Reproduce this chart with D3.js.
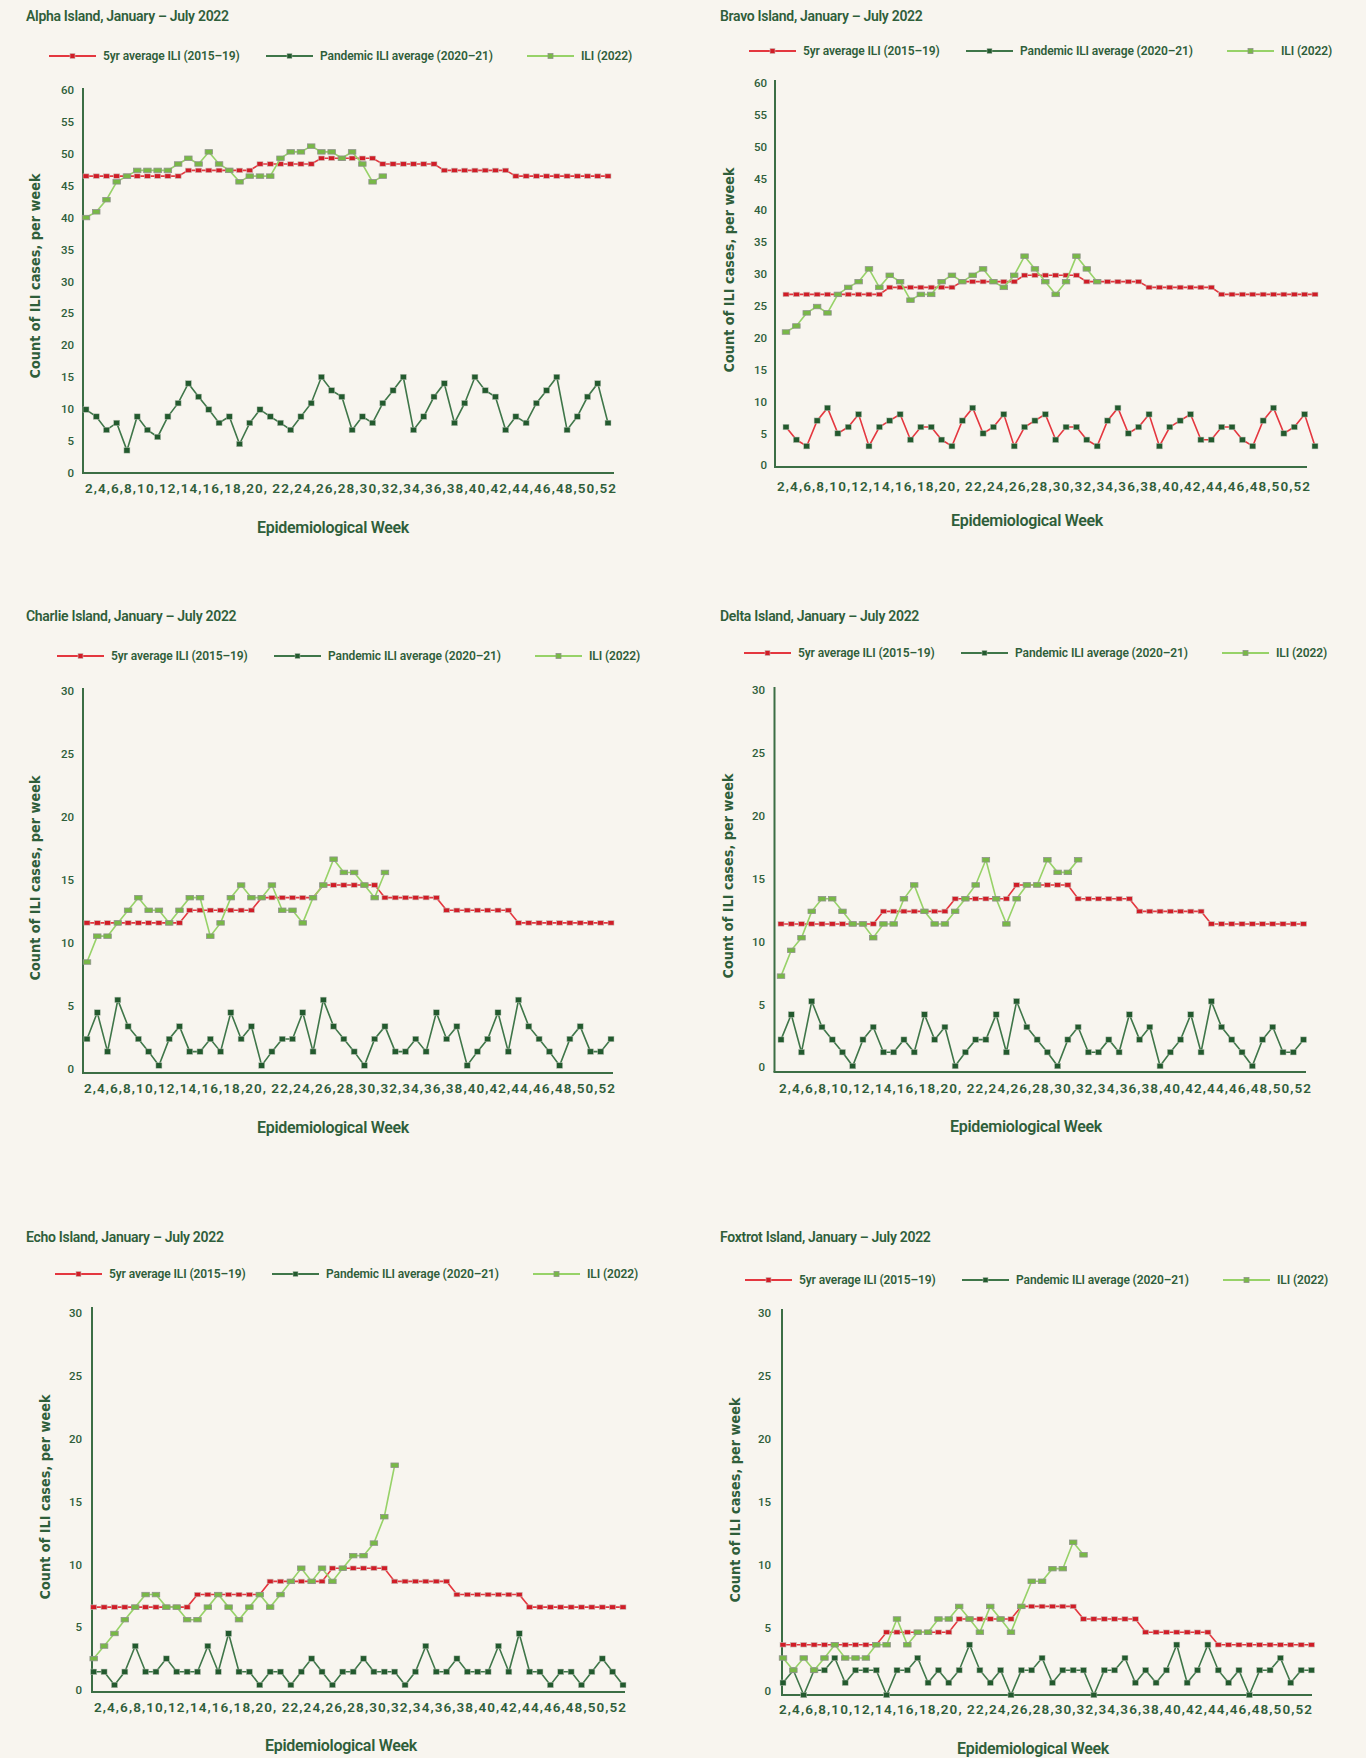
<!DOCTYPE html>
<html>
<head>
<meta charset="utf-8">
<script src="https://cdn.jsdelivr.net/npm/d3@7.9.0/dist/d3.min.js"></script>
<style>
  body { margin: 0; background: #f8f5ef; }
  svg { display: block; }
</style>
</head>
<body>
<svg id="chart" width="1366" height="1758"></svg>
<script>
// ====== DATA ======

const seriesNames = ['5yr average ILI (2015–19)', 'Pandemic ILI average (2020–21)', 'ILI (2022)'];
const xTickLabels = ['2', '4', '6', '8', '10', '12', '14', '16', '18', '20', ' 22', '24', '26',
  '28', '30', '32', '34', '36', '38', '40', '42', '44', '46', '48', '50', '52'];
const yTicksHigh = [0, 5, 10, 15, 20, 25, 30, 35, 40, 45, 50, 55, 60];
const yTicksLow = [0, 5, 10, 15, 20, 25, 30];

// Alpha
const alphaAvg = [46.5, 46.5, 46.5, 46.5, 46.5, 46.5, 46.5, 46.5, 46.5, 46.5, 47.4, 47.4, 47.4, 47.4, 47.4, 47.4, 47.4,
  48.4, 48.4, 48.4, 48.4, 48.4, 48.4, 49.3, 49.3, 49.3, 49.3, 49.3, 49.3, 48.4, 48.4, 48.4, 48.4, 48.4, 48.4,
  47.4, 47.4, 47.4, 47.4, 47.4, 47.4, 47.4, 46.5, 46.5, 46.5, 46.5, 46.5, 46.5, 46.5, 46.5, 46.5, 46.5];
const alphaPandemic = [9.9, 8.8, 6.7, 7.8, 3.5, 8.8, 6.7, 5.6, 8.8, 10.9, 14, 11.9, 9.9, 7.8, 8.8, 4.5, 7.8, 9.9, 8.8, 7.8,
  6.7, 8.8, 10.9, 15, 12.9, 11.9, 6.7, 8.8, 7.8, 10.9, 12.9, 15, 6.7, 8.8, 11.9, 14, 7.8, 10.9, 15, 12.9,
  11.9, 6.7, 8.8, 7.8, 10.9, 12.9, 15, 6.7, 8.8, 11.9, 14, 7.8];
const alphaIli = [40.0, 40.9, 42.8, 45.6, 46.5, 47.4, 47.4, 47.4, 47.4, 48.4, 49.3, 48.4, 50.3, 48.4, 47.4, 45.6, 46.5,
  46.5, 46.5, 49.3, 50.3, 50.3, 51.2, 50.3, 50.3, 49.3, 50.3, 48.4, 45.6, 46.5];

// Bravo
const bravoAvg = [26.8, 26.8, 26.8, 26.8, 26.8, 26.8, 26.8, 26.8, 26.8, 26.8, 27.9, 27.9, 27.9, 27.9, 27.9, 27.9, 27.9,
  28.8, 28.8, 28.8, 28.8, 28.8, 28.8, 29.8, 29.8, 29.8, 29.8, 29.8, 29.8, 28.8, 28.8, 28.8, 28.8, 28.8, 28.8,
  27.9, 27.9, 27.9, 27.9, 27.9, 27.9, 27.9, 26.8, 26.8, 26.8, 26.8, 26.8, 26.8, 26.8, 26.8, 26.8, 26.8];
const bravoPandemic = [6, 4, 3, 7, 9, 5, 6, 8, 3, 6, 7, 8, 4, 6, 6, 4, 3, 7, 9, 5, 6, 8, 3, 6, 7, 8, 4, 6, 6, 4,
  3, 7, 9, 5, 6, 8, 3, 6, 7, 8, 4, 4, 6, 6, 4, 3, 7, 9, 5, 6, 8, 3];
const bravoIli = [20.9, 21.85, 23.9, 24.9, 23.9, 26.8, 27.9, 28.8, 30.8, 27.9, 29.8, 28.8, 25.9, 26.8, 26.8, 28.8,
  29.8, 28.8, 29.8, 30.8, 28.8, 27.9, 29.8, 32.8, 30.8, 28.8, 26.8, 28.8, 32.8, 30.8, 28.8];

// Charlie
const charlieAvg = [11.6, 11.6, 11.6, 11.6, 11.6, 11.6, 11.6, 11.6, 11.6, 11.6, 12.6, 12.6, 12.6, 12.6, 12.6, 12.6, 12.6,
  13.6, 13.6, 13.6, 13.6, 13.6, 13.6, 14.6, 14.6, 14.6, 14.6, 14.6, 14.6, 13.6, 13.6, 13.6, 13.6, 13.6, 13.6,
  12.6, 12.6, 12.6, 12.6, 12.6, 12.6, 12.6, 11.6, 11.6, 11.6, 11.6, 11.6, 11.6, 11.6, 11.6, 11.6, 11.6];
const charliePandemic = [2.4, 4.5, 1.4, 5.5, 3.4, 2.4, 1.4, 0.3, 2.4, 3.4, 1.4, 1.4, 2.4, 1.4, 4.5, 2.4, 3.4, 0.3, 1.4, 2.4,
  2.4, 4.5, 1.4, 5.5, 3.4, 2.4, 1.4, 0.3, 2.4, 3.4, 1.4, 1.4, 2.4, 1.4, 4.5, 2.4, 3.4, 0.3, 1.4, 2.4,
  4.5, 1.4, 5.5, 3.4, 2.4, 1.4, 0.3, 2.4, 3.4, 1.4, 1.4, 2.4];
const charlieIli = [8.5, 10.55, 10.55, 11.6, 12.6, 13.6, 12.6, 12.6, 11.6, 12.6, 13.6, 13.6, 10.55, 11.6, 13.6, 14.6,
  13.6, 13.6, 14.6, 12.6, 12.6, 11.6, 13.6, 14.6, 16.65, 15.6, 15.6, 14.6, 13.6, 15.6];

// Delta
const deltaAvg = [11.4, 11.4, 11.4, 11.4, 11.4, 11.4, 11.4, 11.4, 11.4, 11.4, 12.4, 12.4, 12.4, 12.4, 12.4, 12.4, 12.4,
  13.4, 13.4, 13.4, 13.4, 13.4, 13.4, 14.5, 14.5, 14.5, 14.5, 14.5, 14.5, 13.4, 13.4, 13.4, 13.4, 13.4, 13.4,
  12.4, 12.4, 12.4, 12.4, 12.4, 12.4, 12.4, 11.4, 11.4, 11.4, 11.4, 11.4, 11.4, 11.4, 11.4, 11.4, 11.4];
const deltaPandemic = [2.2, 4.2, 1.2, 5.25, 3.2, 2.2, 1.2, 0.1, 2.2, 3.2, 1.2, 1.2, 2.2, 1.2, 4.2, 2.2, 3.2, 0.1, 1.2, 2.2,
  2.2, 4.2, 1.2, 5.25, 3.2, 2.2, 1.2, 0.1, 2.2, 3.2, 1.2, 1.2, 2.2, 1.2, 4.2, 2.2, 3.2, 0.1, 1.2, 2.2,
  4.2, 1.2, 5.25, 3.2, 2.2, 1.2, 0.1, 2.2, 3.2, 1.2, 1.2, 2.2];
const deltaIli = [7.25, 9.3, 10.3, 12.4, 13.4, 13.4, 12.4, 11.4, 11.4, 10.3, 11.4, 11.4, 13.4, 14.5, 12.4, 11.4,
  11.4, 12.4, 13.4, 14.5, 16.5, 13.4, 11.4, 13.4, 14.5, 14.5, 16.5, 15.5, 15.5, 16.5];

// Echo
const echoAvg = [6.6, 6.6, 6.6, 6.6, 6.6, 6.6, 6.6, 6.6, 6.6, 6.6, 7.6, 7.6, 7.6, 7.6, 7.6, 7.6, 7.6,
  8.65, 8.65, 8.65, 8.65, 8.65, 8.65, 9.7, 9.7, 9.7, 9.7, 9.7, 9.7, 8.65, 8.65, 8.65, 8.65, 8.65, 8.65,
  7.6, 7.6, 7.6, 7.6, 7.6, 7.6, 7.6, 6.6, 6.6, 6.6, 6.6, 6.6, 6.6, 6.6, 6.6, 6.6, 6.6];
const echoPandemic = [1.45, 1.45, 0.4, 1.45, 3.5, 1.45, 1.45, 2.5, 1.45, 1.45, 1.45, 3.5, 1.45, 4.5, 1.45, 1.45, 0.4,
  1.45, 1.45, 0.4, 1.45, 2.5, 1.45, 0.4, 1.45, 1.45, 2.5, 1.45, 1.45, 1.45, 0.4, 1.45, 3.5, 1.45, 1.45, 2.5,
  1.45, 1.45, 1.45, 3.5, 1.45, 4.5, 1.45, 1.45, 0.4, 1.45, 1.45, 0.4, 1.45, 2.5, 1.45, 0.4];
const echoIli = [2.5, 3.5, 4.5, 5.6, 6.6, 7.6, 7.6, 6.6, 6.6, 5.6, 5.6, 6.6, 7.6, 6.6, 5.6, 6.6, 7.6, 6.6, 7.6, 8.65,
  9.7, 8.65, 9.7, 8.65, 9.7, 10.7, 10.7, 11.7, 13.8, 17.9];

// Foxtrot
const foxtrotAvg = [3.65, 3.65, 3.65, 3.65, 3.65, 3.65, 3.65, 3.65, 3.65, 3.65, 4.65, 4.65, 4.65, 4.65, 4.65, 4.65, 4.65,
  5.7, 5.7, 5.7, 5.7, 5.7, 5.7, 6.7, 6.7, 6.7, 6.7, 6.7, 6.7, 5.7, 5.7, 5.7, 5.7, 5.7, 5.7,
  4.65, 4.65, 4.65, 4.65, 4.65, 4.65, 4.65, 3.65, 3.65, 3.65, 3.65, 3.65, 3.65, 3.65, 3.65, 3.65, 3.65];
const foxtrotPandemic = [0.63, 1.63, -0.34, 1.63, 1.63, 2.6, 0.63, 1.63, 1.63, 1.63, -0.34, 1.63, 1.63, 2.6, 0.63, 1.63,
  0.63, 1.63, 3.65, 1.63, 0.63, 1.63, -0.34, 1.63, 1.63, 2.6, 0.63, 1.63, 1.63, 1.63, -0.34, 1.63, 1.63, 2.6,
  0.63, 1.63, 0.63, 1.63, 3.65, 0.63, 1.63, 3.65, 1.63, 0.63, 1.63, -0.34, 1.63, 1.63, 2.6, 0.63, 1.63, 1.63];
const foxtrotIli = [2.6, 1.63, 2.6, 1.63, 2.6, 3.65, 2.6, 2.6, 2.6, 3.65, 3.65, 5.7, 3.65, 4.65, 4.65, 5.7, 5.7, 6.7,
  5.7, 4.65, 6.7, 5.7, 4.65, 6.7, 8.7, 8.7, 9.7, 9.7, 11.8, 10.8];

// ====== STYLE ======

const BG = '#f8f5ef';
const TEXT = '#2f5e3a';
const AXIS = '#3c6e45';
const RED_LINE = '#e4373f';
const RED_MARK = '#d01d27';
const DG_LINE = '#3f7649';
const DG_MARK = '#235a2e';
const LG_LINE = '#97d268';
const LG_MARK = '#78b946';

// ====== PANELS (layout per island) ======

const panels = [
  { title: 'Alpha Island, January – July 2022', avg: alphaAvg, pandemic: alphaPandemic, ili: alphaIli,
    yTicks: yTicksHigh, pandemicLine: DG_LINE,
    titleX: 26, titleY: 16, legendX: 49, legendY: 56,
    axisX: 83, axisTop: 88, axisRight: 614, axisY: 473, tickX: 74, y0: 472.7, yTop: 90,
    x1: 86, x52: 608, labelY: 488, labelX0: 85, labelX1: 616,
    xTitleX: 333, xTitleY: 527, yTitleX: 35, yTitleY: 276 },
  { title: 'Bravo Island, January – July 2022', avg: bravoAvg, pandemic: bravoPandemic, ili: bravoIli,
    yTicks: yTicksHigh, pandemicLine: RED_LINE,
    titleX: 720, titleY: 16, legendX: 749, legendY: 51,
    axisX: 775, axisTop: 80, axisRight: 1307, axisY: 467, tickX: 767, y0: 465.3, yTop: 82.7,
    x1: 786, x52: 1315, labelY: 486, labelX0: 777, labelX1: 1310,
    xTitleX: 1027, xTitleY: 520, yTitleX: 729, yTitleY: 270 },
  { title: 'Charlie Island, January – July 2022', avg: charlieAvg, pandemic: charliePandemic, ili: charlieIli,
    yTicks: yTicksLow, pandemicLine: DG_LINE,
    titleX: 26, titleY: 616, legendX: 57, legendY: 656,
    axisX: 83, axisTop: 688, axisRight: 613, axisY: 1073, tickX: 74, y0: 1069.3, yTop: 690.7,
    x1: 87, x52: 611, labelY: 1088, labelX0: 84, labelX1: 615,
    xTitleX: 333, xTitleY: 1127, yTitleX: 35, yTitleY: 878 },
  { title: 'Delta Island, January – July 2022', avg: deltaAvg, pandemic: deltaPandemic, ili: deltaIli,
    yTicks: yTicksLow, pandemicLine: DG_LINE,
    titleX: 720, titleY: 616, legendX: 744, legendY: 653,
    axisX: 774.5, axisTop: 687, axisRight: 1306, axisY: 1072, tickX: 765, y0: 1067.3, yTop: 690,
    x1: 781, x52: 1303.5, labelY: 1088, labelX0: 779, labelX1: 1311,
    xTitleX: 1026, xTitleY: 1126, yTitleX: 728, yTitleY: 876 },
  { title: 'Echo Island, January – July 2022', avg: echoAvg, pandemic: echoPandemic, ili: echoIli,
    yTicks: yTicksLow, pandemicLine: DG_LINE,
    titleX: 26, titleY: 1237, legendX: 55, legendY: 1274,
    axisX: 92, axisTop: 1307, axisRight: 625, axisY: 1692, tickX: 82, y0: 1690, yTop: 1313.3,
    x1: 93.7, x52: 623, labelY: 1707, labelX0: 94, labelX1: 626,
    xTitleX: 341, xTitleY: 1745, yTitleX: 45, yTitleY: 1497 },
  { title: 'Foxtrot Island, January – July 2022', avg: foxtrotAvg, pandemic: foxtrotPandemic, ili: foxtrotIli,
    yTicks: yTicksLow, pandemicLine: DG_LINE,
    titleX: 720, titleY: 1237, legendX: 745, legendY: 1280,
    axisX: 782, axisTop: 1309, axisRight: 1312, axisY: 1695, tickX: 771, y0: 1690.7, yTop: 1313.3,
    x1: 783, x52: 1311.5, labelY: 1709, labelX0: 779, labelX1: 1312,
    xTitleX: 1033, xTitleY: 1748, yTitleX: 735, yTitleY: 1500 },
];

// ====== HELPERS ======

const svg = d3.select('#chart');
svg.append('rect').attr('width', 1366).attr('height', 1758).attr('fill', BG);

function drawMarkers(g, values, x, y, opts) {
  g.append('g')
    .selectAll('rect')
    .data(values)
    .join('rect')
    .attr('x', (d, i) => x(i + 1) - opts.w / 2)
    .attr('y', (d) => y(d) - opts.h / 2)
    .attr('width', opts.w)
    .attr('height', opts.h)
    .attr('fill', opts.fill)
    .attr('stroke', opts.stroke)
    .attr('stroke-width', opts.strokeWidth);
}

function drawSeries(g, values, x, y, lineColor, markOpts) {
  const line = d3.line()
    .x((d, i) => x(i + 1))
    .y((d) => y(d));

  g.append('path')
    .datum(values)
    .attr('d', line)
    .attr('fill', 'none')
    .attr('stroke', lineColor)
    .attr('stroke-width', 1.6);

  drawMarkers(g, values, x, y, markOpts);
}

const avgMark = { w: 6, h: 4.5, fill: RED_MARK, stroke: '#c8bfb9', strokeWidth: 0.6 };
const pandMark = { w: 6, h: 5.5, fill: DG_MARK, stroke: '#b9c2b5', strokeWidth: 0.5 };
const iliMark = { w: 7.5, h: 4.5, fill: LG_MARK, stroke: '#8f938b', strokeWidth: 0.8 };

// ====== DRAW ======

panels.forEach((p) => {
  const g = svg.append('g');

  const x = d3.scaleLinear().domain([1, 52]).range([p.x1, p.x52]);
  const yMax = p.yTicks[p.yTicks.length - 1];
  const y = d3.scaleLinear().domain([0, yMax]).range([p.y0, p.yTop]);

  // title
  g.append('text')
    .attr('x', p.titleX)
    .attr('y', p.titleY)
    .attr('dy', '0.35em')
    .attr('fill', TEXT)
    .style('font', '600 14px Roboto')
    .style('letter-spacing', '-0.3px')
    .text(p.title);

  // legend
  const legendItems = [
    { name: seriesNames[0], line: RED_LINE, mark: avgMark, dx: 0 },
    { name: seriesNames[1], line: DG_LINE, mark: pandMark, dx: 217 },
    { name: seriesNames[2], line: LG_LINE, mark: iliMark, dx: 478 },
  ];
  const legend = g.append('g')
    .attr('transform', `translate(${p.legendX},${p.legendY})`);
  const item = legend.selectAll('g')
    .data(legendItems)
    .join('g')
    .attr('transform', (d) => `translate(${d.dx},0)`);
  item.append('line')
    .attr('x1', 0).attr('x2', 47)
    .attr('stroke', (d) => d.line)
    .attr('stroke-width', 1.8);
  item.append('rect')
    .attr('x', 23.5 - 2.5).attr('y', -2.5)
    .attr('width', 5).attr('height', 5)
    .attr('fill', (d) => d.mark.fill)
    .attr('stroke', (d) => d.mark.stroke)
    .attr('stroke-width', (d) => d.mark.strokeWidth);
  item.append('text')
    .attr('x', 54)
    .attr('dy', '0.35em')
    .attr('fill', TEXT)
    .style('font', '600 12px Roboto')
    .style('letter-spacing', '-0.1px')
    .text((d) => d.name);

  // y axis tick labels
  const yAxis = g.append('g')
    .attr('transform', `translate(${p.tickX},0)`)
    .call(d3.axisLeft(y).tickValues(p.yTicks).tickSize(0).tickPadding(0));
  yAxis.select('.domain').remove();
  yAxis.selectAll('text')
    .attr('fill', TEXT)
    .attr('text-anchor', 'end')
    .style('font', '500 11.5px Roboto');

  // axis lines
  g.append('line')
    .attr('x1', p.axisX).attr('x2', p.axisX)
    .attr('y1', p.axisTop).attr('y2', p.axisY)
    .attr('stroke', AXIS).attr('stroke-width', 2);
  g.append('line')
    .attr('x1', p.axisX - 1).attr('x2', p.axisRight)
    .attr('y1', p.axisY).attr('y2', p.axisY)
    .attr('stroke', AXIS).attr('stroke-width', 2);

  // x tick labels (one spread string, as in the source)
  g.append('text')
    .attr('x', p.labelX0)
    .attr('y', p.labelY)
    .attr('dy', '0.35em')
    .attr('fill', TEXT)
    .attr('textLength', p.labelX1 - p.labelX0)
    .attr('lengthAdjust', 'spacing')
    .style('font', '600 13.5px Roboto')
    .text(xTickLabels.join(','));

  // axis titles
  g.append('text')
    .attr('x', p.xTitleX)
    .attr('y', p.xTitleY)
    .attr('dy', '0.35em')
    .attr('text-anchor', 'middle')
    .attr('fill', TEXT)
    .style('font', '600 16px Roboto')
    .style('letter-spacing', '-0.3px')
    .text('Epidemiological Week');

  g.append('text')
    .attr('transform', `translate(${p.yTitleX},${p.yTitleY}) rotate(-90)`)
    .attr('dy', '0.35em')
    .attr('text-anchor', 'middle')
    .attr('fill', TEXT)
    .attr('textLength', 205)
    .attr('lengthAdjust', 'spacingAndGlyphs')
    .style('font', 'bold 14px "DejaVu Sans"')
    .text('Count of ILI cases, per week');

  // series
  drawSeries(g, p.avg, x, y, RED_LINE, avgMark);
  drawSeries(g, p.pandemic, x, y, p.pandemicLine, pandMark);
  drawSeries(g, p.ili, x, y, LG_LINE, iliMark);
});
</script>
</body>
</html>
